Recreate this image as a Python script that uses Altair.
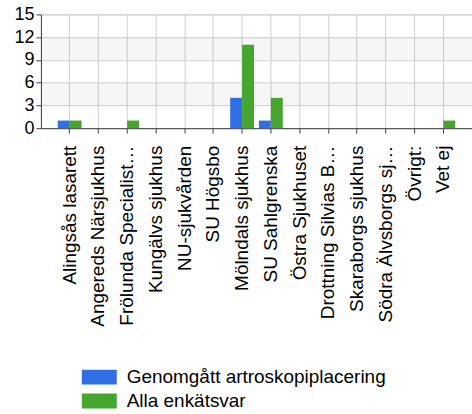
import altair as alt
import pandas as pd

categories = ["Alingsås lasarett", "Angereds Närsjukhus", "Frölunda Specialist…",
              "Kungälvs sjukhus", "NU-sjukvården", "SU Högsbo", "Mölndals sjukhus",
              "SU Sahlgrenska", "Östra Sjukhuset", "Drottning Silvias B…",
              "Skaraborgs sjukhus", "Södra Älvsborgs sj…", "Övrigt:", "Vet ej"]
series = ["Genomgått artroskopiplacering", "Alla enkätsvar"]
genomgatt = [1, 0, 0, 0, 0, 0, 4, 1, 0, 0, 0, 0, 0, 0]
alla = [1, 0, 1, 0, 0, 0, 11, 4, 0, 0, 0, 0, 0, 1]
y_ticks = [0, 3, 6, 9, 12, 15]
band_lo = [3, 9]
band_hi = [6, 12]
colors = ["#2f6fe3", "#45a52f"]

rows = []
for s, vals in zip(series, [genomgatt, alla]):
    for c, v in zip(categories, vals):
        rows.append({"cat": c, "series": s, "value": v})
df = pd.DataFrame(rows)
bands = pd.DataFrame({"lo": band_lo, "hi": band_hi})

FONT = "Liberation Sans"

yaxis = alt.Axis(title=None, values=y_ticks, grid=True, gridColor="#cfcfcf",
                 labelFontSize=18, labelFont=FONT, labelColor="#000000",
                 tickColor="#404040", tickSize=5, labelPadding=2,
                 domainColor="#404040", labelOverlap=False)

band_layer = alt.Chart(bands).mark_rect(color="#000000", fillOpacity=0.035).encode(
    y=alt.Y("lo:Q", scale=alt.Scale(domain=[0, 15], nice=False), axis=yaxis),
    y2="hi:Q",
)

bars = alt.Chart(df).mark_bar().encode(
    x=alt.X("cat:N", sort=categories,
            scale=alt.Scale(paddingInner=0.17, paddingOuter=0.585),
            axis=alt.Axis(title=None, labelAngle=-90, bandPosition=0.5, grid=True,
                          gridColor="#cfcfcf", labelFontSize=19, labelFont=FONT,
                          labelColor="#000000", tickColor="#404040", tickSize=5,
                          labelPadding=12, domainColor="#404040", labelLimit=0,
                          labelOverlap=False)),
    xOffset=alt.XOffset("series:N", sort=series,
                        scale=alt.Scale(paddingInner=0, paddingOuter=0)),
    y=alt.Y("value:Q", scale=alt.Scale(domain=[0, 15], nice=False), axis=yaxis),
    color=alt.Color("series:N", sort=series,
                    scale=alt.Scale(domain=series, range=colors),
                    legend=alt.Legend(title=None, orient="none", legendX=49, legendY=354,
                                      symbolType="M-2.333,-1L2.333,-1L2.333,1L-2.333,1Z",
                                      symbolSize=225, symbolStrokeWidth=0,
                                      symbolOpacity=1, labelLimit=0,
                                      labelFontSize=19, labelFont=FONT,
                                      labelColor="#000000", labelOffset=18,
                                      rowPadding=4)),
)

chart = alt.layer(band_layer, bars).properties(
    width=432, height=114, background="white",
    padding={"left": 13, "top": 5, "right": 0, "bottom": 0},
).configure_view(stroke="#cfcfcf")

chart.save("out.html", embed_options={"renderer": "svg", "actions": False})
